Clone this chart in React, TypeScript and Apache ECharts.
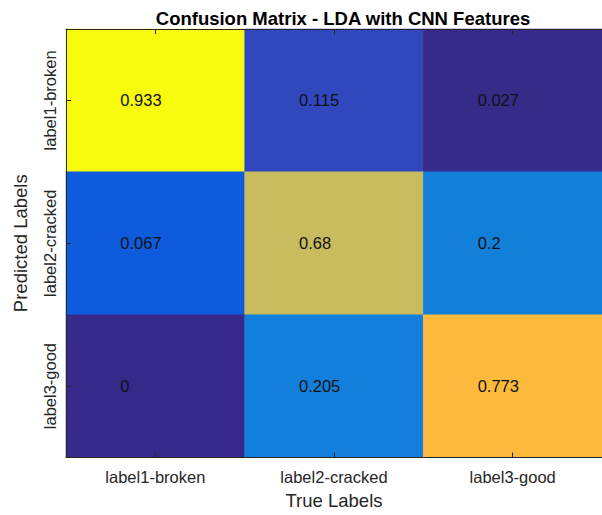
import React, { useEffect, useRef } from "react";
import * as echarts from "echarts";

const trueLabels = ["label1-broken", "label2-cracked", "label3-good"];
const predictedLabels = ["label1-broken", "label2-cracked", "label3-good"];
// rows = predicted, columns = true
const matrix = [
  [0.933, 0.115, 0.027],
  [0.067, 0.68, 0.2],
  [0, 0.205, 0.773],
];
const cellColors = [
  ["#F9FB0E", "#3047BE", "#362B88"],
  ["#0E5CDD", "#C8BC5E", "#127FD9"],
  ["#352A8A", "#117FDB", "#FCBA3D"],
];

const FONT = "Liberation Sans, Arial, Helvetica, sans-serif";
const AXIS_COLOR = "#262626";

export default function App() {
  const ref = useRef<HTMLDivElement>(null);
  useEffect(() => {
    if (!ref.current) return;
    const chart = echarts.init(ref.current, undefined, { renderer: "svg" });
    const data: any[] = [];
    const pieces: any[] = [];
    matrix.forEach((row, r) =>
      row.forEach((v, c) => {
        const idx = r * row.length + c;
        data.push([c, r, v, idx]);
        pieces.push({ value: idx, color: cellColors[r][c] });
      })
    );
    chart.setOption({
      animation: false,
      title: {
        text: "Confusion Matrix - LDA with CNN Features",
        left: 338,
        top: 4,
        textAlign: "center",
        textStyle: { fontFamily: FONT, fontSize: 18.5, fontWeight: "bold", color: "#000" },
      },
      grid: { left: 66, top: 29, right: -7, bottom: 57.5, containLabel: false },
      visualMap: {
        type: "piecewise",
        show: false,
        dimension: 3,
        seriesIndex: 0,
        pieces,
      },
      xAxis: [
        {
          type: "category",
          data: trueLabels,
          position: "bottom",
          name: "True Labels",
          nameLocation: "middle",
          nameGap: 33,
          nameTextStyle: { fontFamily: FONT, fontSize: 18.5, color: AXIS_COLOR },
          axisLine: { show: true, lineStyle: { color: AXIS_COLOR, width: 1 } },
          axisTick: { show: true, inside: true, length: 5, alignWithLabel: true, lineStyle: { color: AXIS_COLOR } },
          axisLabel: { fontFamily: FONT, fontSize: 16.5, color: AXIS_COLOR, margin: 11 },
          splitLine: { show: false },
          z: 10,
        },
        {
          type: "category",
          data: trueLabels,
          position: "top",
          axisLine: { show: true, lineStyle: { color: AXIS_COLOR, width: 1 } },
          axisTick: { show: true, inside: true, length: 5, alignWithLabel: true, lineStyle: { color: AXIS_COLOR } },
          axisLabel: { show: false },
          splitLine: { show: false },
          z: 10,
        },
      ],
      yAxis: [
        {
          type: "category",
          data: predictedLabels,
          inverse: true,
          position: "left",
          name: "Predicted Labels",
          nameLocation: "middle",
          nameGap: 36,
          nameTextStyle: { fontFamily: FONT, fontSize: 18.5, color: AXIS_COLOR },
          axisLine: { show: true, lineStyle: { color: AXIS_COLOR, width: 1 } },
          axisTick: { show: true, inside: true, length: 5, alignWithLabel: true, lineStyle: { color: AXIS_COLOR } },
          axisLabel: { fontFamily: FONT, fontSize: 16.5, color: AXIS_COLOR, rotate: 90, margin: 8 },
          splitLine: { show: false },
          z: 10,
        },
      ],
      series: [
        {
          type: "heatmap",
          xAxisIndex: 0,
          yAxisIndex: 0,
          data,
          encode: { x: 0, y: 1, value: 2 },
          label: {
            show: true,
            formatter: (p: any) => String(p.value[2]),
            fontFamily: FONT,
            fontSize: 16.5,
            color: "#111",
            align: "left",
            offset: [-35, 0],
          },
          emphasis: { disabled: true },
          itemStyle: { borderWidth: 0 },
        },
      ],
    });
    return () => chart.dispose();
  }, []);
  return (
    <div
      ref={ref}
      style={{ position: "fixed", left: 0, top: 0, width: 602, height: 515, background: "#fff" }}
    />
  );
}
